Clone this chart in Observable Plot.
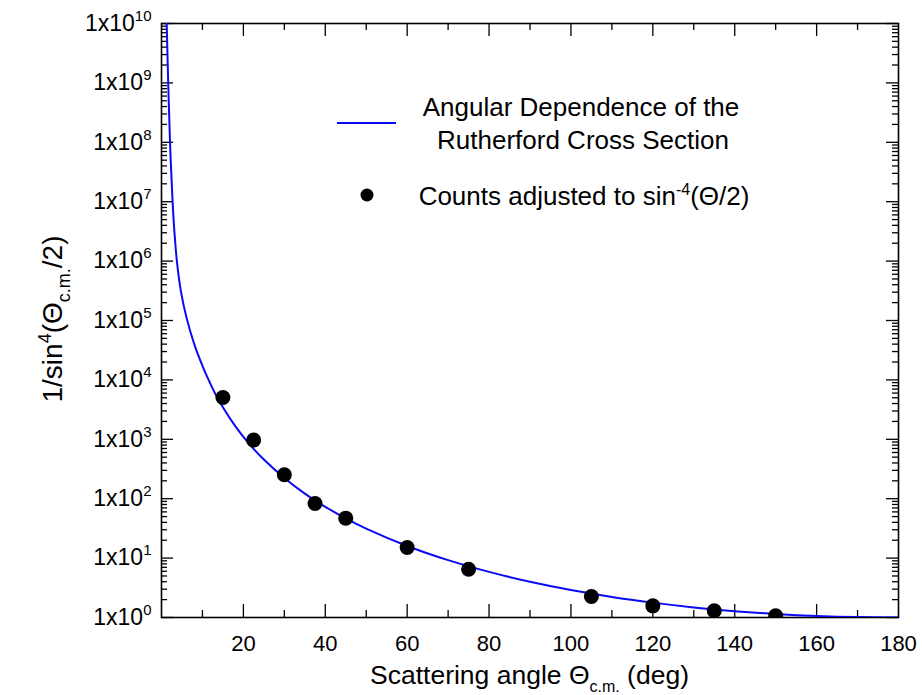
<!DOCTYPE html>
<html>
<head>
<meta charset="utf-8">
<script src="https://cdn.jsdelivr.net/npm/d3@7"></script>
<script src="https://cdn.jsdelivr.net/npm/@observablehq/plot@0.6"></script>
<style>
  html, body { margin: 0; padding: 0; background: #fff; }
  #chart svg { display: block; }
</style>
</head>
<body>
<div id="chart"></div>
<script>
// Measured scattering angles (deg) and counts scaled to 1/sin^4(Θ/2)
const angles = [15, 22.5, 30, 37.5, 45, 60, 75, 105, 120, 135, 150];
const counts = [5050, 970, 253, 83, 47, 15.1, 6.5, 2.26, 1.57, 1.30, 1.07];

// Rutherford cross section curve, sampled along the angle axis
const curveAngles = [1.27, 1.64, 2.08, 2.71, 3.15, 3.76, 4.72, 6.08, 8.16, 10, 11.5, 13, 15, 17.5, 20, 22.5, 25,
  30, 35, 40, 45, 50, 60, 70, 80, 90, 100, 110, 120, 130, 140, 150, 160, 170, 180];
const curveValues = [1e10, 1e9, 1e8, 1e7, 3.16e6, 1e6, 3.16e5, 1.14e5, 3.7e4, 1.73e4, 1e4, 6090, 3450, 1870, 1100, 690, 456,
  223, 122, 73.1, 46.6, 31.3, 16, 9.24, 5.86, 4, 2.9, 2.22, 1.78, 1.48, 1.28, 1.15, 1.063, 1.015, 1.0];

// Axis ticks
const xLabelTicks = [20, 40, 60, 80, 100, 120, 140, 160, 180];
const xMajorTicks = [20, 40, 60, 80, 100, 120, 140, 160];
const xMinorTicks = [10, 30, 50, 70, 90, 110, 130, 150, 170];
const yExponents = [0, 1, 2, 3, 4, 5, 6, 7, 8, 9, 10];
const yMinorFactors = [2, 3, 4, 5, 6, 7, 8, 9];

const yMajorTicks = yExponents.map(e => 10 ** e);
const yMinorTicks = yExponents.slice(0, -1).flatMap(e => yMinorFactors.map(k => k * 10 ** e));

const points = angles.map((a, i) => ({angle: a, value: counts[i]}));
const curve = curveAngles.map((a, i) => ({angle: a, value: curveValues[i]}));

const W = 922, H = 695;
const M = {top: 23, right: 24, bottom: 78, left: 161};
const plotW = W - M.left - M.right;
const plotH = H - M.top - M.bottom;
const FONT = '"Liberation Sans", Arial, Helvetica, sans-serif';
const BLUE = "#0a0af5";

const inward = (len, side) => ({
  bottom: {insetTop: plotH - len},
  top: {insetBottom: plotH - len},
  left: {insetRight: plotW - len},
  right: {insetLeft: plotW - len}
})[side];

const tickStyle = {stroke: "black", strokeWidth: 1.3};

const chart = Plot.plot({
  width: W,
  height: H,
  marginTop: M.top,
  marginRight: M.right,
  marginBottom: M.bottom,
  marginLeft: M.left,
  style: {fontFamily: FONT, color: "black", background: "white", overflow: "visible"},
  x: {domain: [0, 180]},
  y: {type: "log", domain: [1, 1e10]},
  marks: [
    // inward ticks on all four sides
    Plot.tickX(xMajorTicks, {x: d => d, ...inward(13, "bottom"), ...tickStyle}),
    Plot.tickX(xMinorTicks, {x: d => d, ...inward(7, "bottom"), ...tickStyle}),
    Plot.tickX(xMajorTicks, {x: d => d, ...inward(13, "top"), ...tickStyle}),
    Plot.tickX(xMinorTicks, {x: d => d, ...inward(7, "top"), ...tickStyle}),
    Plot.tickY(yMajorTicks, {y: d => d, ...inward(12, "left"), ...tickStyle}),
    Plot.tickY(yMinorTicks, {y: d => d, ...inward(6, "left"), ...tickStyle}),
    Plot.tickY(yMajorTicks, {y: d => d, ...inward(12, "right"), ...tickStyle}),
    Plot.tickY(yMinorTicks, {y: d => d, ...inward(6, "right"), ...tickStyle}),
    Plot.frame({stroke: "black", strokeWidth: 1.6}),
    Plot.axisX(xLabelTicks, {tickSize: 0, tickPadding: 18, fontSize: 22, label: null}),
    Plot.axisY(yMajorTicks, {
      tickSize: 0, tickPadding: 10, fontSize: 23, label: null,
      tickFormat: d => "1x10^" + Math.round(Math.log10(d))
    }),
    Plot.line(curve, {x: "angle", y: "value", stroke: BLUE, strokeWidth: 2, curve: "catmull-rom", clip: "frame"}),
    Plot.dot(points, {x: "angle", y: "value", r: 7.5, fill: "black", stroke: "none", clip: "frame"})
  ]
});

document.getElementById("chart").appendChild(chart);

const svg = d3.select(chart);

// "1x10^n" tick labels with a raised exponent
svg.selectAll('g[aria-label="y-axis tick label"] text').each(function () {
  const t = d3.select(this);
  const [base, exp] = t.text().split("^");
  t.text(null);
  t.append("tspan").text(base);
  t.append("tspan").attr("dy", -10).attr("font-size", 15).text(exp);
});

// Rich text helper: parts are [text, "sup" | "sub" | null]
function richText(g, parts, size, small, up = 10, down = 8) {
  const t = g.append("text")
    .attr("font-family", FONT)
    .attr("font-size", size)
    .attr("fill", "black");
  let shift = 0;
  for (const [s, kind] of parts) {
    const target = kind === "sup" ? -up : kind === "sub" ? down : 0;
    const span = t.append("tspan").text(s).attr("dy", target - shift);
    if (kind) span.attr("font-size", small);
    shift = target;
  }
  return t;
}

// x-axis title
richText(svg.append("g"), [["Scattering angle Θ", null], ["c.m.", "sub"], [" (deg)", null]], 26.5, 16)
  .attr("x", (M.left + W - M.right) / 2)
  .attr("y", 684)
  .attr("text-anchor", "middle");

// y-axis title
richText(svg.append("g").attr("transform", "translate(62,319) rotate(-90)"),
  [["1/sin", null], ["4", "sup"], ["(Θ", null], ["c.m.", "sub"], ["/2)", null]], 28, 18, 11, 8)
  .attr("text-anchor", "middle");

// Legend
const legend = svg.append("g");
legend.append("line")
  .attr("x1", 337).attr("x2", 396).attr("y1", 123).attr("y2", 123)
  .attr("stroke", BLUE).attr("stroke-width", 2);
legend.append("circle")
  .attr("cx", 367).attr("cy", 195).attr("r", 6.5).attr("fill", "black");
richText(legend, [["Angular Dependence of the", null]], 26, 16)
  .attr("x", 581).attr("y", 116).attr("text-anchor", "middle");
richText(legend, [["Rutherford Cross Section", null]], 26, 16)
  .attr("x", 583).attr("y", 149).attr("text-anchor", "middle");
richText(legend, [["Counts adjusted to sin", null], ["-4", "sup"], ["(Θ/2)", null]], 26, 16)
  .attr("x", 584).attr("y", 205).attr("text-anchor", "middle");
</script>
</body>
</html>
